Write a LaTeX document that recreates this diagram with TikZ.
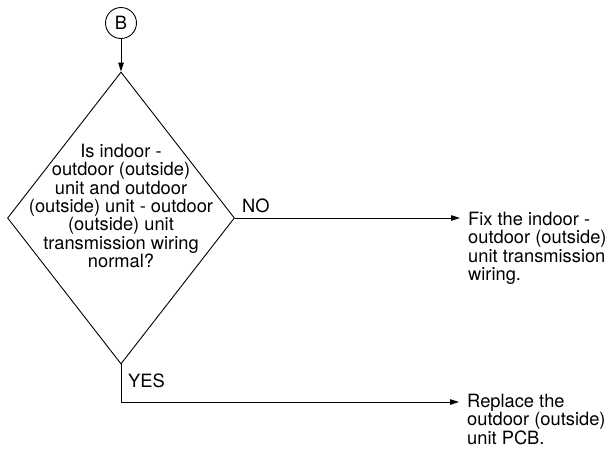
\documentclass[tikz,border=0pt]{standalone}
\usepackage{fontspec}
\setmainfont{TeX Gyre Heros}
\usepackage{tikz}
\usetikzlibrary{
  positioning,
  arrows.meta,
  shapes.geometric
}
\tikzset{
  >={Triangle[length=9pt,width=5.5pt]},
  flowarrow/.style={->,line width=1pt},
  flowline/.style={line width=1pt},
  decision/.style={diamond,draw,line width=0.9pt,inner sep=0pt,minimum width=227pt,minimum height=292pt},
  connector/.style={circle,draw,line width=0.9pt,minimum size=31pt,inner sep=0pt},
  question/.style={align=center,inner sep=0pt},
  outcome/.style={align=left,anchor=north west,inner xsep=8pt,inner ysep=0pt},
  answer/.style={inner sep=0pt}
}

\begin{document}
\begin{tikzpicture}[x=1pt,y=-1pt,font=\fontsize{18.3}{18.3}\selectfont]
    \useasboundingbox (0,0) rectangle (610,448);
    % Verbinder und Abfrage
    \node[connector] (b) at (121,23) {B};
    \node[decision] (check) at (121,218) {};
    \node[question] (qtext) at (121,206) {Is indoor -\\outdoor (outside)\\unit and outdoor\\(outside) unit - outdoor\\(outside) unit\\transmission wiring\\normal?};

    % Ergebnisse
    \node[outcome] (fix) at (460,212) {Fix the indoor -\\outdoor (outside)\\unit transmission\\wiring.};
    \node[outcome] (replace) at (459,394) {Replace the\\outdoor (outside)\\unit PCB.};
    \coordinate (yesturn) at (121,402);

    \draw[flowarrow] (b) -- (check.north);
    \draw[flowarrow] (check.east) -- (check.east -| fix.west);
    \draw[flowline] (check.south) -- (yesturn);
    \draw[flowarrow] (yesturn) -- (yesturn -| replace.west);

    \node[answer,anchor=base west] (no) at (242,212) {NO};
    \node[answer,anchor=base west] (yes) at (128,387) {YES};
\end{tikzpicture}
\end{document}
